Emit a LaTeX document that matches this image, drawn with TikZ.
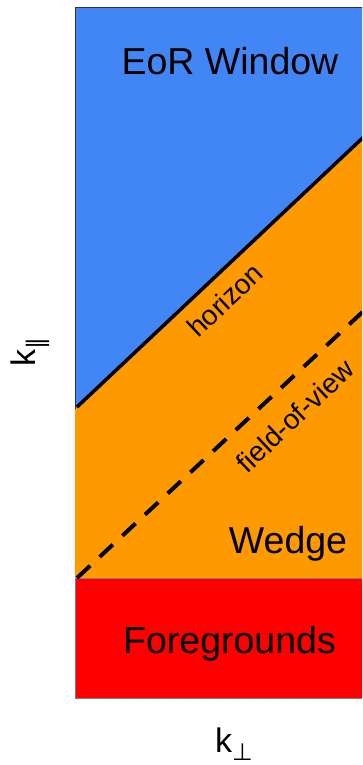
\documentclass[tikz,border=0pt]{standalone}
\usepackage{fontspec}
\setmainfont{Liberation Sans}
\newfontfamily\symfont{DejaVu Sans}
\definecolor{eorblue}{RGB}{66,133,244}
\definecolor{wedgeorange}{RGB}{255,153,0}
\definecolor{fgred}{RGB}{255,0,0}
\tikzset{
  biglabel/.style={font=\fontsize{37.5}{40}\selectfont, inner sep=0pt},
  linelabel/.style={font=\fontsize{28}{32}\selectfont, inner sep=0pt, rotate=43.3},
  axislabel/.style={font=\fontsize{34}{38}\selectfont, inner sep=0pt},
  horizonline/.style={line width=3.5pt},
  fovline/.style={line width=4pt, dash pattern=on 18pt off 13pt}
}
\begin{document}
\begin{tikzpicture}[x=1pt,y=-1pt]
\useasboundingbox (0,0) rectangle (362,765);
\clip (0,0) rectangle (362,765);
% regions
\fill[eorblue] (75,8) rectangle (370,578);
\coordinate (hzA) at (77,407);
\coordinate (hzB) at (370,131);
\coordinate (fvA) at (77,578);
\coordinate (fvB) at (370,305);
\fill[wedgeorange] (75,409) -- (370,131) -- (370,578) -- (75,578) -- cycle;
\draw[line width=1pt, black!80] (75,409) -- (75,8) -- (370,8);
\fill[fgred] (75,578) rectangle (370,698);
\draw[line width=1pt, gray] (370,578) -- (75,578) -- (75,698) -- (370,698);
% lines
\draw[horizonline] (hzA) -- (hzB);
\draw[fovline] (fvA) -- (fvB);
% labels
\node[biglabel, anchor=base] (eor) at (230,75) {EoR Window};
\node[biglabel, anchor=base] (wedge) at (288,553) {Wedge};
\node[biglabel, anchor=base] (fg) at (229.5,653) {Foregrounds};
\node[linelabel] (hz) at (225,300) {horizon};
\node[linelabel] (fov) at (295,416) {field-of-view};
\node[axislabel, anchor=base west] (kperp) at (215,752) {k\textsubscript{\symfont ⊥}};
\node[axislabel, anchor=base west, rotate=90] (kpar) at (35,367) {k\textsubscript{\symfont ∥}};
\end{tikzpicture}
\end{document}
